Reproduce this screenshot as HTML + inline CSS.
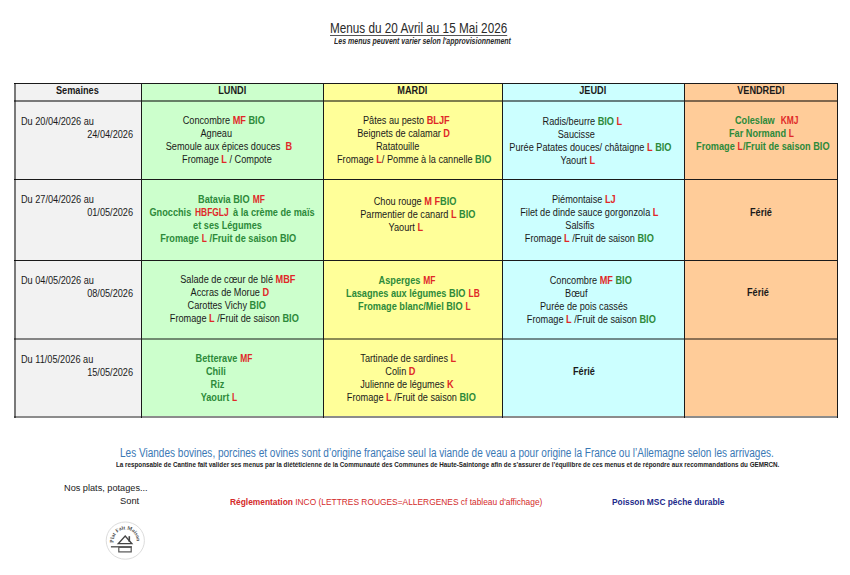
<!DOCTYPE html><html><head><meta charset="utf-8"><style>
*{margin:0;padding:0;box-sizing:border-box}
html,body{width:850px;height:575px;overflow:hidden;background:#fff}
body{position:relative;font-family:"Liberation Sans",Arial,sans-serif;color:#1a1a1a}
.a{position:absolute}
.bgc{position:absolute}
.hl{position:absolute;height:1px;background:#111}
.vl{position:absolute;width:1px;background:#111}
.cell{position:absolute;display:flex;flex-direction:column;justify-content:center;align-items:center;font-size:10px;line-height:13px}
.ln{white-space:nowrap;display:block;height:13px;transform:scaleX(0.917);transform-origin:50% 50%}
.bg .ln{font-weight:bold;color:#2d8a3a}
.bk .ln{font-weight:bold}
.r{color:#e02828}
.g{color:#2d8a3a}
b{font-weight:bold}
.ln2{position:absolute;width:300px;text-align:center;font-size:10px;line-height:13px;height:13px;white-space:nowrap}
.ln2 span{display:inline-block;transform:scaleX(0.917)}
.ln2.bg{font-weight:bold;color:#2d8a3a}
.ln2.bk{font-weight:bold}
.wk{position:absolute;font-size:10px;line-height:13px;white-space:nowrap;transform:scaleX(0.917)}
.hd{position:absolute;font-size:10px;font-weight:bold;line-height:17px;text-align:center;top:82px;height:17px}
.hd span{display:inline-block;transform:scaleX(0.917)}
.t{position:absolute;white-space:nowrap;text-align:center}
.t span{display:inline-block}
#wrap{position:absolute;left:0;top:0;width:850px;height:575px;background:#fff}</style></head><body><div id="wrap"><div class="bgc" style="left:14px;top:83px;width:127px;height:333px;background:#f2f2f2"></div>
<div class="bgc" style="left:141px;top:83px;width:182px;height:333px;background:#ccffcc"></div>
<div class="bgc" style="left:323px;top:83px;width:179px;height:333px;background:#ffff99"></div>
<div class="bgc" style="left:502px;top:83px;width:182px;height:333px;background:#ccffff"></div>
<div class="bgc" style="left:684px;top:83px;width:153px;height:333px;background:#ffcc99"></div>
<div class="a" style="left:14px;top:83px;width:824px;height:1px;background:#1a1a1a"></div>
<div class="a" style="left:14px;top:100px;width:824px;height:2px;background:rgba(0,0,0,0.5)"></div>
<div class="a" style="left:14px;top:179px;width:824px;height:1px;background:#1a1a1a"></div>
<div class="a" style="left:14px;top:260px;width:824px;height:1px;background:#1a1a1a"></div>
<div class="a" style="left:14px;top:338px;width:824px;height:2px;background:rgba(0,0,0,0.45)"></div>
<div class="a" style="left:14px;top:416px;width:824px;height:2px;background:rgba(0,0,0,0.45)"></div>
<div class="a" style="left:14px;top:83px;width:2px;height:335px;background:rgba(0,0,0,0.5)"></div>
<div class="a" style="left:141px;top:83px;width:1px;height:335px;background:#1a1a1a"></div>
<div class="a" style="left:323px;top:83px;width:1px;height:335px;background:#1a1a1a"></div>
<div class="a" style="left:502px;top:83px;width:1px;height:335px;background:#1a1a1a"></div>
<div class="a" style="left:684px;top:83px;width:1px;height:335px;background:#1a1a1a"></div>
<div class="a" style="left:837px;top:83px;width:1px;height:335px;background:#1a1a1a"></div>
<div class="hd" style="left:14px;width:127px"><span>Semaines</span></div>
<div class="hd" style="left:141px;width:182px"><span>LUNDI</span></div>
<div class="hd" style="left:323px;width:179px"><span>MARDI</span></div>
<div class="hd" style="left:502px;width:182px"><span>JEUDI</span></div>
<div class="hd" style="left:684px;width:153px"><span>VENDREDI</span></div>
<div class="wk" style="left:20.8px;top:114.80px;transform-origin:0 0">Du 20/04/2026 au</div>
<div class="wk" style="right:717px;top:127.70px;transform-origin:100% 0">24/04/2026</div>
<div class="wk" style="left:20.8px;top:193.20px;transform-origin:0 0">Du 27/04/2026 au</div>
<div class="wk" style="right:717px;top:206.10px;transform-origin:100% 0">01/05/2026</div>
<div class="wk" style="left:20.8px;top:273.80px;transform-origin:0 0">Du 04/05/2026 au</div>
<div class="wk" style="right:717px;top:286.70px;transform-origin:100% 0">08/05/2026</div>
<div class="wk" style="left:20.8px;top:352.80px;transform-origin:0 0">Du 11/05/2026 au</div>
<div class="wk" style="right:717px;top:365.70px;transform-origin:100% 0">15/05/2026</div>
<div class="ln2 n" style="left:74.00px;top:114.40px"><span>Concombre <b class="r">MF</b> <b class="g">BIO</b></span></div>
<div class="ln2 n" style="left:66.50px;top:127.40px"><span>Agneau</span></div>
<div class="ln2 n" style="left:78.50px;top:140.40px"><span>Semoule aux épices douces &nbsp;<b class="r">B</b></span></div>
<div class="ln2 n" style="left:77.40px;top:153.40px"><span>Fromage <b class="r">L</b> / Compote</span></div>
<div class="ln2 n" style="left:256.00px;top:114.20px"><span>Pâtes au pesto <b class="r">BLJF</b></span></div>
<div class="ln2 n" style="left:253.90px;top:127.20px"><span>Beignets de calamar <b class="r">D</b></span></div>
<div class="ln2 n" style="left:247.20px;top:140.20px"><span>Ratatouille</span></div>
<div class="ln2 n" style="left:264.60px;top:153.20px"><span>Fromage <b class="r">L</b>/ Pomme à la cannelle <b class="g">BIO</b></span></div>
<div class="ln2 n" style="left:431.90px;top:114.60px"><span>Radis/beurre <b class="g">BIO</b> <b class="r">L</b></span></div>
<div class="ln2 n" style="left:425.80px;top:127.60px"><span>Saucisse</span></div>
<div class="ln2 n" style="left:440.00px;top:140.60px"><span>Purée Patates douces/ châtaigne <b class="r">L</b> <b class="g">BIO</b></span></div>
<div class="ln2 n" style="left:427.60px;top:153.60px"><span>Yaourt <b class="r">L</b></span></div>
<div class="ln2 bg" style="left:616.60px;top:114.10px"><span>Coleslaw &nbsp;<span class="r">KMJ</span></span></div>
<div class="ln2 bg" style="left:611.70px;top:127.10px"><span>Far Normand <span class="r">L</span></span></div>
<div class="ln2 bg" style="left:613.05px;top:140.10px"><span>Fromage <span class="r">L</span>/Fruit de saison BIO</span></div>
<div class="ln2 bg" style="left:82.00px;top:193.10px"><span>Batavia BIO <span class="r">MF</span></span></div>
<div class="ln2 bg" style="left:82.50px;top:206.10px"><span>Gnocchis <span class="r">HBFGLJ</span> à la crème de maïs</span></div>
<div class="ln2 bg" style="left:77.60px;top:219.10px"><span>et ses Légumes</span></div>
<div class="ln2 bg" style="left:78.20px;top:232.10px"><span>Fromage <span class="r">L</span> /Fruit de saison BIO</span></div>
<div class="ln2 n" style="left:265.40px;top:194.80px"><span>Chou rouge <b class="r">M F</b><b class="g">BIO</b></span></div>
<div class="ln2 n" style="left:267.40px;top:207.80px"><span>Parmentier de canard <b class="r">L</b> <b class="g">BIO</b></span></div>
<div class="ln2 n" style="left:255.50px;top:220.80px"><span>Yaourt <b class="r">L</b></span></div>
<div class="ln2 n" style="left:433.90px;top:193.10px"><span>Piémontaise <b class="r">LJ</b></span></div>
<div class="ln2 n" style="left:439.20px;top:206.10px"><span>Filet de dinde sauce gorgonzola <b class="r">L</b></span></div>
<div class="ln2 n" style="left:429.70px;top:219.10px"><span>Salsifis</span></div>
<div class="ln2 n" style="left:439.50px;top:232.10px"><span>Fromage <b class="r">L</b> /Fruit de saison <b class="g">BIO</b></span></div>
<div class="ln2 bk" style="left:610.50px;top:205.70px"><span>Férié</span></div>
<div class="ln2 n" style="left:88.00px;top:273.40px"><span>Salade de cœur de blé <b class="r">MBF</b></span></div>
<div class="ln2 n" style="left:80.00px;top:286.40px"><span>Accras de Morue <b class="r">D</b></span></div>
<div class="ln2 n" style="left:77.20px;top:299.40px"><span>Carottes Vichy <b class="g">BIO</b></span></div>
<div class="ln2 n" style="left:84.80px;top:312.40px"><span>Fromage <b class="r">L</b> /Fruit de saison <b class="g">BIO</b></span></div>
<div class="ln2 bg" style="left:257.00px;top:273.60px"><span>Asperges <span class="r">MF</span></span></div>
<div class="ln2 bg" style="left:263.40px;top:286.60px"><span>Lasagnes aux légumes BIO <span class="r">LB</span></span></div>
<div class="ln2 bg" style="left:264.00px;top:299.60px"><span>Fromage blanc/Miel BIO <span class="r">L</span></span></div>
<div class="ln2 n" style="left:440.90px;top:273.60px"><span>Concombre <b class="r">MF</b> <b class="g">BIO</b></span></div>
<div class="ln2 n" style="left:426.40px;top:286.60px"><span>Bœuf</span></div>
<div class="ln2 n" style="left:433.40px;top:299.60px"><span>Purée de pois cassés</span></div>
<div class="ln2 n" style="left:441.20px;top:312.60px"><span>Fromage <b class="r">L</b> /Fruit de saison <b class="g">BIO</b></span></div>
<div class="ln2 bk" style="left:608.10px;top:285.90px"><span>Férié</span></div>
<div class="ln2 bg" style="left:74.20px;top:352.00px"><span>Betterave <span class="r">MF</span></span></div>
<div class="ln2 bg" style="left:65.50px;top:365.00px"><span>Chili</span></div>
<div class="ln2 bg" style="left:67.90px;top:378.00px"><span>Riz</span></div>
<div class="ln2 bg" style="left:69.30px;top:391.00px"><span>Yaourt <span class="r">L</span></span></div>
<div class="ln2 n" style="left:258.60px;top:352.20px"><span>Tartinade de sardines <b class="r">L</b></span></div>
<div class="ln2 n" style="left:250.50px;top:365.20px"><span>Colin <b class="r">D</b></span></div>
<div class="ln2 n" style="left:256.80px;top:378.20px"><span>Julienne de légumes <b class="r">K</b></span></div>
<div class="ln2 n" style="left:261.70px;top:391.20px"><span>Fromage <b class="r">L</b> /Fruit de saison <b class="g">BIO</b></span></div>
<div class="ln2 bk" style="left:433.60px;top:365.40px"><span>Férié</span></div>
<div class="a" style="left:329.80px;top:20.15px;font-size:14px;line-height:16.8px;white-space:nowrap;transform:scaleX(0.8381);transform-origin:0 0;color:#2a2a2a"><span style="text-decoration:underline;text-underline-offset:2px;text-decoration-color:#555">Menus du 20 Avril au 15 Mai 2026</span></div>
<div class="a" style="left:333.50px;top:35.55px;font-size:8.5px;line-height:10.2px;white-space:nowrap;transform:scaleX(0.8244);transform-origin:0 0;font-weight:bold;font-style:italic;color:#2a2a2a">Les menus peuvent varier selon l'approvisionnement</div>
<div class="a" style="left:119.70px;top:445.64px;font-size:12px;line-height:14.4px;white-space:nowrap;transform:scaleX(0.8358);transform-origin:0 0;color:#3a78b5">Les Viandes bovines, porcines et ovines sont d’origine française seul la viande de veau a pour origine la France ou l’Allemagne selon les arrivages.</div>
<div class="a" style="left:116.00px;top:460.86px;font-size:6.8px;line-height:8.16px;white-space:nowrap;transform:scaleX(0.9243);transform-origin:0 0;color:#222;font-weight:bold">La responsable de Cantine fait valider ses menus par la diététicienne de la Communauté des Communes de Haute-Saintonge afin de s’assurer de l’équilibre de ces menus et de répondre aux recommandations du GEMRCN.</div>
<div class="a" style="left:64.20px;top:482.11px;font-size:9.6px;line-height:11.52px;white-space:nowrap;transform:scaleX(0.9564);transform-origin:0 0;color:#1a1a1a">Nos plats, potages...</div>
<div class="a" style="left:120.30px;top:495.41px;font-size:9.6px;line-height:11.52px;white-space:nowrap;transform:scaleX(0.9722);transform-origin:0 0;color:#1a1a1a">Sont</div>
<div class="a" style="left:229.50px;top:496.50px;font-size:9.3px;line-height:11.16px;white-space:nowrap;transform:scaleX(0.9016);transform-origin:0 0;color:#d42a2a"><b>Réglementation</b> INCO (LETTRES ROUGES=ALLERGENES cf tableau d'affichage)</div>
<div class="a" style="left:612.00px;top:496.50px;font-size:9.3px;line-height:11.16px;white-space:nowrap;transform:scaleX(0.8996);transform-origin:0 0;color:#1c2a8a;font-weight:bold">Poisson MSC pêche durable</div>
<svg class="a" style="left:104px;top:520px" width="42" height="42" viewBox="0 0 42 42">
<ellipse cx="21.3" cy="20.6" rx="19.1" ry="18.6" fill="#fff" stroke="#dcdcdc" stroke-width="1"/>
<defs><path id="arc" d="M9.71,22.61 A11.6,11.6 0 1 1 32.69,22.61"/></defs>
<text font-family="Liberation Serif,serif" font-weight="bold" font-size="5.4" fill="#444"><textPath href="#arc" textLength="38" lengthAdjust="spacingAndGlyphs">Plat Fait Maison</textPath></text>
<path d="M14.2,23.7 L21.2,16 L27.9,23.7 Z" fill="none" stroke="#444" stroke-width="1.3" stroke-linejoin="miter"/>
<path d="M25.3,16.2 L25.3,21.8" stroke="#444" stroke-width="1.6"/>
<path d="M6.9,26.8 L27.9,26.8" stroke="#555" stroke-width="1.4"/>
<rect x="14.8" y="27.3" width="12.4" height="4.6" fill="none" stroke="#555" stroke-width="1.2"/>
</svg></div></body></html>
